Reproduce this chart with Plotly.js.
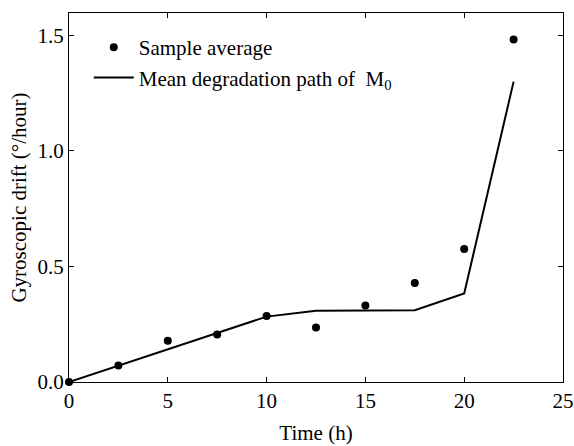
<!DOCTYPE html>
<html>
<head>
<meta charset="utf-8">
<script src="https://cdn.plot.ly/plotly-3.0.1.min.js"></script>
<style>html,body{margin:0;padding:0;background:#fff;}#chart{width:574px;height:446px;}</style>
</head>
<body>
<div id="chart"></div>
<script>
const sampleTime = [0, 2.5, 5, 7.5, 10, 12.5, 15, 17.5, 20, 22.5];
const sampleAverage = [0, 0.071, 0.179, 0.206, 0.286, 0.236, 0.331, 0.429, 0.576, 1.482];
const pathTime = [0, 2.5, 5, 7.5, 10, 12.5, 15, 17.5, 20, 22.5];
const meanPath = [0, 0.071, 0.142, 0.212, 0.283, 0.308, 0.309, 0.311, 0.383, 1.300];
const xTicks = [0, 5, 10, 15, 20, 25];
const yTicks = [0, 0.5, 1.0, 1.5];

const font = {family: 'Liberation Serif, Times New Roman, serif', size: 21, color: '#000'};

const traces = [
  {
    x: sampleTime, y: sampleAverage, mode: 'markers', type: 'scatter',
    name: 'Sample average',
    marker: {color: '#000', size: 8},
    cliponaxis: false
  },
  {
    x: pathTime, y: meanPath, mode: 'lines', type: 'scatter',
    name: 'Mean degradation path of  M<sub>0</sub>',
    line: {color: '#000', width: 2},
    cliponaxis: false
  }
];

const layout = {
  width: 574, height: 446,
  margin: {l: 69, r: 11, t: 13, b: 64},
  paper_bgcolor: '#fff', plot_bgcolor: '#fff',
  font: font,
  showlegend: true,
  legend: {
    x: 0.04, y: 0.962, xanchor: 'left', yanchor: 'top',
    bgcolor: 'rgba(0,0,0,0)', font: font, tracegroupgap: 0, itemwidth: 40
  },
  xaxis: {
    range: [0, 25], tickvals: xTicks, ticktext: xTicks.map(String),
    ticks: 'inside', ticklen: 5, tickcolor: '#000', tickwidth: 1,
    showline: true, linecolor: '#000', linewidth: 1, mirror: 'ticks',
    showgrid: false, zeroline: false,
    title: {text: 'Time (h)', font: font, standoff: 13},
    tickfont: font
  },
  yaxis: {
    range: [0, 1.597], tickvals: yTicks, ticktext: yTicks.map(v => v.toFixed(1)),
    ticks: 'inside', ticklen: 5, tickcolor: '#000', tickwidth: 1,
    showline: true, linecolor: '#000', linewidth: 1, mirror: 'ticks',
    showgrid: false, zeroline: false,
    title: {text: 'Gyroscopic drift (°/hour)', font: font, standoff: 5},
    tickfont: font
  }
};

Plotly.newPlot('chart', traces, layout, {displayModeBar: false, staticPlot: true});
</script>
</body>
</html>
